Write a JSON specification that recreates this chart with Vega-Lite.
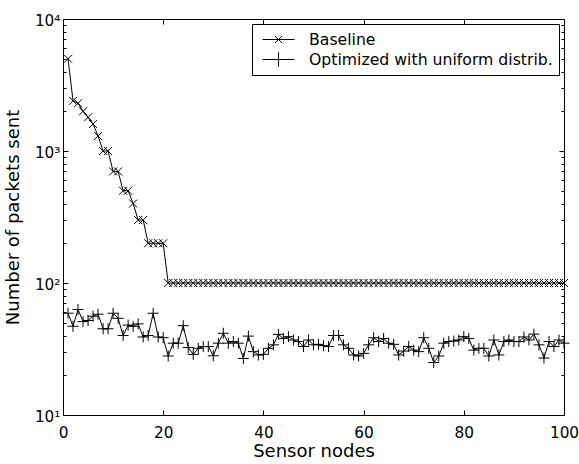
{
  "$schema": "https://vega.github.io/schema/vega-lite/v6.json",
  "width": 501,
  "height": 396,
  "autosize": {"type": "none"},
  "padding": {"left": 63, "top": 19, "right": 15, "bottom": 49},
  "background": "white",
  "config": {
    "view": {"stroke": "black", "strokeWidth": 1},
    "font": "DejaVu Sans",
    "axis": {"labelFont": "DejaVu Sans", "titleFont": "DejaVu Sans", "labelColor": "black", "titleColor": "black", "tickColor": "black", "tickWidth": 1, "domain": false, "grid": false, "titleFontWeight": "normal", "labelFlush": false, "labelOverlap": false},
    "legend": {"title": null, "orient": "top-right", "offset": 5, "strokeColor": "black", "fillColor": "white", "padding": 6, "symbolSize": 1024, "symbolOffset": 4, "clipHeight": 19, "symbolStrokeWidth": 1, "symbolStrokeColor": "black", "labelFont": "DejaVu Sans", "labelFontSize": 15.7, "labelColor": "black", "labelOffset": 14, "rowPadding": 1, "cornerRadius": 0, "labelLimit": 0}
  },
  "data": {"values": [
    {"node":1,"series":"Baseline","packets":5000},{"node":2,"series":"Baseline","packets":2400},{"node":3,"series":"Baseline","packets":2300},{"node":4,"series":"Baseline","packets":2000},{"node":5,"series":"Baseline","packets":1800},{"node":6,"series":"Baseline","packets":1600},{"node":7,"series":"Baseline","packets":1300},{"node":8,"series":"Baseline","packets":1000},{"node":9,"series":"Baseline","packets":1000},{"node":10,"series":"Baseline","packets":700},
    {"node":11,"series":"Baseline","packets":700},{"node":12,"series":"Baseline","packets":500},{"node":13,"series":"Baseline","packets":500},{"node":14,"series":"Baseline","packets":400},{"node":15,"series":"Baseline","packets":300},{"node":16,"series":"Baseline","packets":300},{"node":17,"series":"Baseline","packets":200},{"node":18,"series":"Baseline","packets":200},{"node":19,"series":"Baseline","packets":200},{"node":20,"series":"Baseline","packets":200},
    {"node":21,"series":"Baseline","packets":100},{"node":22,"series":"Baseline","packets":100},{"node":23,"series":"Baseline","packets":100},{"node":24,"series":"Baseline","packets":100},{"node":25,"series":"Baseline","packets":100},{"node":26,"series":"Baseline","packets":100},{"node":27,"series":"Baseline","packets":100},{"node":28,"series":"Baseline","packets":100},{"node":29,"series":"Baseline","packets":100},{"node":30,"series":"Baseline","packets":100},
    {"node":31,"series":"Baseline","packets":100},{"node":32,"series":"Baseline","packets":100},{"node":33,"series":"Baseline","packets":100},{"node":34,"series":"Baseline","packets":100},{"node":35,"series":"Baseline","packets":100},{"node":36,"series":"Baseline","packets":100},{"node":37,"series":"Baseline","packets":100},{"node":38,"series":"Baseline","packets":100},{"node":39,"series":"Baseline","packets":100},{"node":40,"series":"Baseline","packets":100},
    {"node":41,"series":"Baseline","packets":100},{"node":42,"series":"Baseline","packets":100},{"node":43,"series":"Baseline","packets":100},{"node":44,"series":"Baseline","packets":100},{"node":45,"series":"Baseline","packets":100},{"node":46,"series":"Baseline","packets":100},{"node":47,"series":"Baseline","packets":100},{"node":48,"series":"Baseline","packets":100},{"node":49,"series":"Baseline","packets":100},{"node":50,"series":"Baseline","packets":100},
    {"node":51,"series":"Baseline","packets":100},{"node":52,"series":"Baseline","packets":100},{"node":53,"series":"Baseline","packets":100},{"node":54,"series":"Baseline","packets":100},{"node":55,"series":"Baseline","packets":100},{"node":56,"series":"Baseline","packets":100},{"node":57,"series":"Baseline","packets":100},{"node":58,"series":"Baseline","packets":100},{"node":59,"series":"Baseline","packets":100},{"node":60,"series":"Baseline","packets":100},
    {"node":61,"series":"Baseline","packets":100},{"node":62,"series":"Baseline","packets":100},{"node":63,"series":"Baseline","packets":100},{"node":64,"series":"Baseline","packets":100},{"node":65,"series":"Baseline","packets":100},{"node":66,"series":"Baseline","packets":100},{"node":67,"series":"Baseline","packets":100},{"node":68,"series":"Baseline","packets":100},{"node":69,"series":"Baseline","packets":100},{"node":70,"series":"Baseline","packets":100},
    {"node":71,"series":"Baseline","packets":100},{"node":72,"series":"Baseline","packets":100},{"node":73,"series":"Baseline","packets":100},{"node":74,"series":"Baseline","packets":100},{"node":75,"series":"Baseline","packets":100},{"node":76,"series":"Baseline","packets":100},{"node":77,"series":"Baseline","packets":100},{"node":78,"series":"Baseline","packets":100},{"node":79,"series":"Baseline","packets":100},{"node":80,"series":"Baseline","packets":100},
    {"node":81,"series":"Baseline","packets":100},{"node":82,"series":"Baseline","packets":100},{"node":83,"series":"Baseline","packets":100},{"node":84,"series":"Baseline","packets":100},{"node":85,"series":"Baseline","packets":100},{"node":86,"series":"Baseline","packets":100},{"node":87,"series":"Baseline","packets":100},{"node":88,"series":"Baseline","packets":100},{"node":89,"series":"Baseline","packets":100},{"node":90,"series":"Baseline","packets":100},
    {"node":91,"series":"Baseline","packets":100},{"node":92,"series":"Baseline","packets":100},{"node":93,"series":"Baseline","packets":100},{"node":94,"series":"Baseline","packets":100},{"node":95,"series":"Baseline","packets":100},{"node":96,"series":"Baseline","packets":100},{"node":97,"series":"Baseline","packets":100},{"node":98,"series":"Baseline","packets":100},{"node":99,"series":"Baseline","packets":100},{"node":100,"series":"Baseline","packets":100},
    {"node":1,"series":"Optimized with uniform distrib.","packets":59},{"node":2,"series":"Optimized with uniform distrib.","packets":47},{"node":3,"series":"Optimized with uniform distrib.","packets":63},{"node":4,"series":"Optimized with uniform distrib.","packets":51},{"node":5,"series":"Optimized with uniform distrib.","packets":52},{"node":6,"series":"Optimized with uniform distrib.","packets":56},{"node":7,"series":"Optimized with uniform distrib.","packets":58},{"node":8,"series":"Optimized with uniform distrib.","packets":45},{"node":9,"series":"Optimized with uniform distrib.","packets":45},{"node":10,"series":"Optimized with uniform distrib.","packets":59},
    {"node":11,"series":"Optimized with uniform distrib.","packets":54},{"node":12,"series":"Optimized with uniform distrib.","packets":40},{"node":13,"series":"Optimized with uniform distrib.","packets":48},{"node":14,"series":"Optimized with uniform distrib.","packets":47},{"node":15,"series":"Optimized with uniform distrib.","packets":49},{"node":16,"series":"Optimized with uniform distrib.","packets":39},{"node":17,"series":"Optimized with uniform distrib.","packets":40},{"node":18,"series":"Optimized with uniform distrib.","packets":59},{"node":19,"series":"Optimized with uniform distrib.","packets":39},{"node":20,"series":"Optimized with uniform distrib.","packets":38.5},
    {"node":21,"series":"Optimized with uniform distrib.","packets":28},{"node":22,"series":"Optimized with uniform distrib.","packets":35},{"node":23,"series":"Optimized with uniform distrib.","packets":35},{"node":24,"series":"Optimized with uniform distrib.","packets":47.5},{"node":25,"series":"Optimized with uniform distrib.","packets":32.4},{"node":26,"series":"Optimized with uniform distrib.","packets":28.8},{"node":27,"series":"Optimized with uniform distrib.","packets":32},{"node":28,"series":"Optimized with uniform distrib.","packets":33},{"node":29,"series":"Optimized with uniform distrib.","packets":33},{"node":30,"series":"Optimized with uniform distrib.","packets":28.1},
    {"node":31,"series":"Optimized with uniform distrib.","packets":35},{"node":32,"series":"Optimized with uniform distrib.","packets":41.6},{"node":33,"series":"Optimized with uniform distrib.","packets":35},{"node":34,"series":"Optimized with uniform distrib.","packets":36},{"node":35,"series":"Optimized with uniform distrib.","packets":35},{"node":36,"series":"Optimized with uniform distrib.","packets":26.8},{"node":37,"series":"Optimized with uniform distrib.","packets":39.6},{"node":38,"series":"Optimized with uniform distrib.","packets":30.2},{"node":39,"series":"Optimized with uniform distrib.","packets":28.5},{"node":40,"series":"Optimized with uniform distrib.","packets":28.8},
    {"node":41,"series":"Optimized with uniform distrib.","packets":32},{"node":42,"series":"Optimized with uniform distrib.","packets":34},{"node":43,"series":"Optimized with uniform distrib.","packets":40.8},{"node":44,"series":"Optimized with uniform distrib.","packets":38},{"node":45,"series":"Optimized with uniform distrib.","packets":39.2},{"node":46,"series":"Optimized with uniform distrib.","packets":37},{"node":47,"series":"Optimized with uniform distrib.","packets":36},{"node":48,"series":"Optimized with uniform distrib.","packets":33},{"node":49,"series":"Optimized with uniform distrib.","packets":37},{"node":50,"series":"Optimized with uniform distrib.","packets":34},
    {"node":51,"series":"Optimized with uniform distrib.","packets":34.3},{"node":52,"series":"Optimized with uniform distrib.","packets":33.5},{"node":53,"series":"Optimized with uniform distrib.","packets":33},{"node":54,"series":"Optimized with uniform distrib.","packets":40},{"node":55,"series":"Optimized with uniform distrib.","packets":40},{"node":56,"series":"Optimized with uniform distrib.","packets":34},{"node":57,"series":"Optimized with uniform distrib.","packets":32},{"node":58,"series":"Optimized with uniform distrib.","packets":28.5},{"node":59,"series":"Optimized with uniform distrib.","packets":28},{"node":60,"series":"Optimized with uniform distrib.","packets":29.3},
    {"node":61,"series":"Optimized with uniform distrib.","packets":34},{"node":62,"series":"Optimized with uniform distrib.","packets":38.5},{"node":63,"series":"Optimized with uniform distrib.","packets":36},{"node":64,"series":"Optimized with uniform distrib.","packets":38},{"node":65,"series":"Optimized with uniform distrib.","packets":35},{"node":66,"series":"Optimized with uniform distrib.","packets":34.3},{"node":67,"series":"Optimized with uniform distrib.","packets":28.5},{"node":68,"series":"Optimized with uniform distrib.","packets":30.5},{"node":69,"series":"Optimized with uniform distrib.","packets":33},{"node":70,"series":"Optimized with uniform distrib.","packets":31},
    {"node":71,"series":"Optimized with uniform distrib.","packets":30.2},{"node":72,"series":"Optimized with uniform distrib.","packets":38.5},{"node":73,"series":"Optimized with uniform distrib.","packets":32},{"node":74,"series":"Optimized with uniform distrib.","packets":25},{"node":75,"series":"Optimized with uniform distrib.","packets":28},{"node":76,"series":"Optimized with uniform distrib.","packets":35},{"node":77,"series":"Optimized with uniform distrib.","packets":36},{"node":78,"series":"Optimized with uniform distrib.","packets":36.3},{"node":79,"series":"Optimized with uniform distrib.","packets":37},{"node":80,"series":"Optimized with uniform distrib.","packets":39.2},
    {"node":81,"series":"Optimized with uniform distrib.","packets":38},{"node":82,"series":"Optimized with uniform distrib.","packets":31},{"node":83,"series":"Optimized with uniform distrib.","packets":32},{"node":84,"series":"Optimized with uniform distrib.","packets":32},{"node":85,"series":"Optimized with uniform distrib.","packets":28},{"node":86,"series":"Optimized with uniform distrib.","packets":37},{"node":87,"series":"Optimized with uniform distrib.","packets":28.5},{"node":88,"series":"Optimized with uniform distrib.","packets":36},{"node":89,"series":"Optimized with uniform distrib.","packets":37},{"node":90,"series":"Optimized with uniform distrib.","packets":36},
    {"node":91,"series":"Optimized with uniform distrib.","packets":36},{"node":92,"series":"Optimized with uniform distrib.","packets":39},{"node":93,"series":"Optimized with uniform distrib.","packets":37},{"node":94,"series":"Optimized with uniform distrib.","packets":41},{"node":95,"series":"Optimized with uniform distrib.","packets":34},{"node":96,"series":"Optimized with uniform distrib.","packets":27},{"node":97,"series":"Optimized with uniform distrib.","packets":36},{"node":98,"series":"Optimized with uniform distrib.","packets":33},{"node":99,"series":"Optimized with uniform distrib.","packets":37},{"node":100,"series":"Optimized with uniform distrib.","packets":35}
  ]},
  "layer": [
    {
      "mark": {"type": "line", "color": "black", "strokeWidth": 1},
      "encoding": {
        "x": {"field": "node", "type": "quantitative", "scale": {"domain": [0, 100], "nice": false},
              "axis": {"orient": "bottom", "values": [0, 20, 40, 60, 80, 100], "tickSize": -5, "labelPadding": 15, "labelFontSize": 15.3, "title": "Sensor nodes", "titleFontSize": 18, "titlePadding": 2}},
        "y": {"field": "packets", "type": "quantitative", "scale": {"type": "log", "domain": [10, 10000], "nice": false},
              "axis": {"orient": "left", "values": [10, 100, 1000, 10000], "tickSize": -5, "labelPadding": 8, "labelFontSize": 15.3, "labelOffset": 1,
                       "labelExpr": "datum.value == 10 ? '10¹' : datum.value == 100 ? '10²' : datum.value == 1000 ? '10³' : '10⁴'",
                       "title": "Number of packets sent", "titleFontSize": 18, "titlePadding": 12}},
        "detail": {"field": "series", "type": "nominal"}
      }
    },
    {
      "transform": [{"filter": "datum.series == 'Baseline'"}],
      "mark": {"type": "point", "shape": "M-1,-1L1,1M-1,1L1,-1", "size": 64, "filled": false, "color": "black", "strokeWidth": 1, "opacity": 1},
      "encoding": {
        "x": {"field": "node", "type": "quantitative", "axis": {"orient": "top", "values": [20, 40, 60, 80], "labels": false, "tickSize": -5, "title": null}},
        "y": {"field": "packets", "type": "quantitative", "axis": {"orient": "right", "values": [100, 1000], "labels": false, "tickSize": -5, "title": null}}
      }
    },
    {
      "transform": [{"filter": "datum.series != 'Baseline'"}],
      "mark": {"type": "point", "shape": "M-1,0L1,0M0,-1L0,1", "size": 121, "filled": false, "color": "black", "strokeWidth": 1, "opacity": 1},
      "encoding": {
        "x": {"field": "node", "type": "quantitative", "axis": null},
        "y": {"field": "packets", "type": "quantitative", "axis": {"orient": "left", "values": [20, 30, 40, 50, 60, 70, 80, 90, 200, 300, 400, 500, 600, 700, 800, 900, 2000, 3000, 4000, 5000, 6000, 7000, 8000, 9000], "labels": false, "tickSize": -3, "title": null}}
      }
    },
    {
      "transform": [{"filter": "datum.node < 0"}],
      "mark": {"type": "point", "filled": false, "color": "black", "strokeWidth": 1, "opacity": 1},
      "encoding": {
        "x": {"field": "node", "type": "quantitative", "axis": null},
        "y": {"field": "packets", "type": "quantitative", "axis": {"orient": "right", "values": [20, 30, 40, 50, 60, 70, 80, 90, 200, 300, 400, 500, 600, 700, 800, 900, 2000, 3000, 4000, 5000, 6000, 7000, 8000, 9000], "labels": false, "tickSize": -3, "title": null}},
        "shape": {"field": "series", "type": "nominal",
                  "scale": {"domain": ["Baseline", "Optimized with uniform distrib."], "range": ["M-1,0L1,0M-0.22,-0.22L0.22,0.22M-0.22,0.22L0.22,-0.22", "M-1,0L1,0M0,-0.45L0,0.45"]},
                  "legend": {"title": null}}
      }
    }
  ],
  "resolve": {"axis": {"x": "independent", "y": "independent"}}
}
